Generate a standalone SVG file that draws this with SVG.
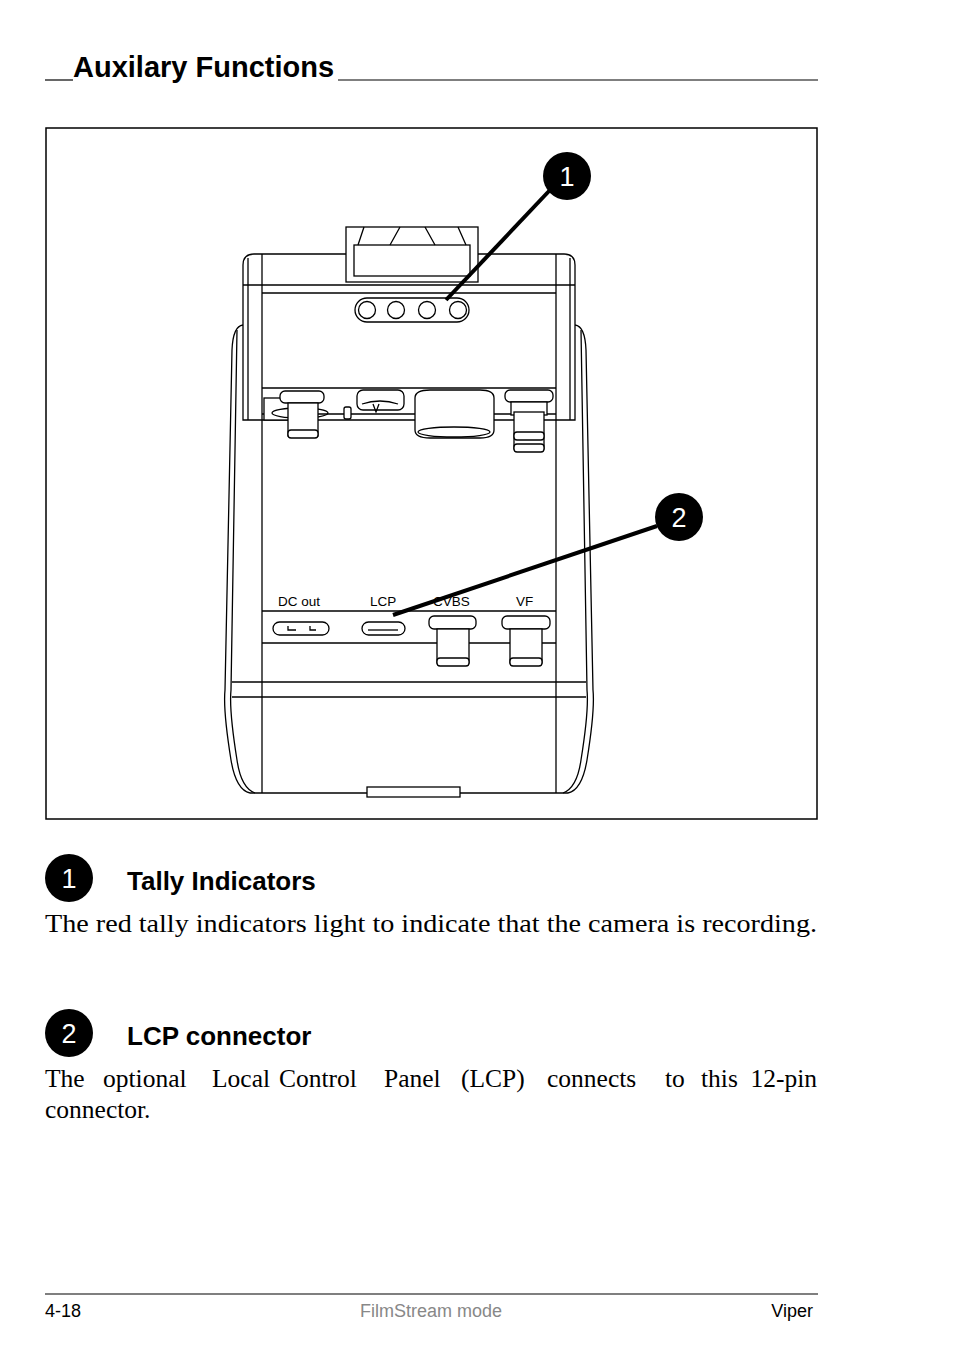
<svg xmlns="http://www.w3.org/2000/svg" width="954" height="1351" viewBox="0 0 954 1351">
<style>
.s{font-family:"Liberation Sans",Arial,sans-serif}
.b{font-family:"Liberation Sans",Arial,sans-serif;font-weight:bold}
.r{font-family:"Liberation Serif","Times New Roman",serif;font-size:25.5px}
.ln{fill:none;stroke:#000;stroke-width:1.3}
.lw{fill:#fff;stroke:#000;stroke-width:1.3}
.lead{stroke:#000;stroke-width:4;stroke-linecap:butt}
</style>
<rect width="954" height="1351" fill="#fff"/>
<text class="b" x="73" y="77" font-size="29">Auxilary Functions</text>
<line x1="45" y1="80" x2="73" y2="80" stroke="#000" stroke-width="1.2"/>
<line x1="338" y1="80" x2="818" y2="80" stroke="#000" stroke-width="1.2"/>
<rect x="46" y="128" width="771" height="691" fill="none" stroke="#000" stroke-width="1.5"/>

<g id="camera">
  <path class="ln" d="M243 325 Q233 326 232 350 L225 690 Q223 710 231 760 Q236 790 250 793"/>
  <path class="ln" d="M237 330 L231 690 Q229 710 237 760 Q241 788 255 793"/>
  <path class="ln" d="M575 325 Q585 326 586 350 L593 690 Q595 710 587 760 Q582 790 568 793"/>
  <path class="ln" d="M581 330 L587 690 Q589 710 581 760 Q577 788 563 793"/>
  <path class="lw" d="M243 420 L243 265 Q243 254 254 254 L564 254 Q575 254 575 265 L575 420 Z"/>
  <line class="ln" x1="262" y1="254" x2="262" y2="793"/>
  <line class="ln" x1="556" y1="254" x2="556" y2="793"/>
  <line class="ln" x1="250" y1="793" x2="568" y2="793"/>
  <line class="ln" x1="243" y1="285" x2="575" y2="285"/>
  <line class="ln" x1="262" y1="293" x2="556" y2="293"/>
  <line class="ln" x1="248" y1="258" x2="248" y2="420"/>
  <line class="ln" x1="570" y1="258" x2="570" y2="420"/>
  <rect class="lw" x="346" y="227" width="132" height="55"/>
  <rect class="lw" x="354" y="245" width="116" height="31"/>
  <path class="ln" d="M358 245 L364 227 M400 227 L390 245 M425 227 L435 245 M466 245 L458 227"/>
  <rect class="lw" x="355" y="298" width="114" height="24" rx="12"/>
  <circle class="lw" cx="367" cy="310" r="8.5" stroke-width="1.8"/>
  <circle class="lw" cx="396" cy="310" r="8.5" stroke-width="1.8"/>
  <circle class="lw" cx="427" cy="310" r="8.5" stroke-width="1.8"/>
  <circle class="lw" cx="458" cy="310" r="8.5" stroke-width="1.8"/>
  <line class="ln" x1="262" y1="388" x2="556" y2="388"/>
  <line class="ln" x1="262" y1="414" x2="556" y2="414"/>
  <rect class="lw" x="264" y="398" width="44" height="22" stroke-width="2"/>
  <ellipse class="ln" cx="300" cy="413" rx="28" ry="5"/>
  <rect class="lw" x="280" y="391" width="44" height="12" rx="5"/>
  <rect class="lw" x="288" y="403" width="30" height="33"/>
  <rect class="lw" x="288" y="430" width="30" height="8" rx="3"/>
  <rect class="lw" x="344" y="407" width="7" height="12" rx="2"/>
  <rect class="lw" x="357" y="390" width="47" height="20" rx="6"/>
  <path class="ln" d="M362 404 Q380 398 398 404 M373 404 L376 412 L379 404"/>
  <path class="lw" d="M415 398 Q415 390 430 390 L480 390 Q494 390 494 398 L494 430 Q494 438 480 438 L430 438 Q415 438 415 430 Z"/>
  <ellipse class="ln" cx="454" cy="432" rx="36" ry="5"/>
  <rect class="lw" x="505" y="390" width="48" height="12" rx="5"/>
  <rect class="lw" x="511" y="402" width="36" height="13"/>
  <rect class="lw" x="514" y="412" width="30" height="37"/>
  <rect class="lw" x="514" y="432" width="30" height="8" rx="3"/>
  <rect class="lw" x="514" y="444" width="30" height="8" rx="3"/>
  <text class="s" x="278" y="606" font-size="13.5">DC out</text>
  <text class="s" x="370" y="606" font-size="13.5">LCP</text>
  <text class="s" x="433" y="606" font-size="13.5">CVBS</text>
  <text class="s" x="516" y="606" font-size="13.5">VF</text>
  <line class="ln" x1="262" y1="611" x2="556" y2="611"/>
  <line class="ln" x1="262" y1="643" x2="556" y2="643"/>
  <rect class="lw" x="273" y="622" width="56" height="13" rx="6.5" stroke-width="1.8"/>
  <path class="ln" d="M288 626 L288 630 L296 630 M310 626 L310 630 L316 630"/>
  <rect class="lw" x="362" y="622" width="43" height="13" rx="6.5" stroke-width="1.8"/>
  <path class="ln" d="M368 630 L398 630"/>
  <rect class="lw" x="429" y="616" width="47" height="13" rx="5"/>
  <rect class="lw" x="437" y="629" width="32" height="34"/>
  <rect class="lw" x="437" y="658" width="32" height="8" rx="3"/>
  <rect class="lw" x="502" y="616" width="48" height="13" rx="5"/>
  <rect class="lw" x="510" y="629" width="32" height="34"/>
  <rect class="lw" x="510" y="658" width="32" height="8" rx="3"/>
  <line class="ln" x1="232" y1="682" x2="586" y2="682"/>
  <line class="ln" x1="232" y1="697" x2="586" y2="697"/>
  <rect class="lw" x="367" y="787" width="93" height="10"/>
</g>

<g id="connectors">
  <line class="lead" x1="550" y1="190" x2="446" y2="300"/>
  <line class="lead" x1="657" y1="526" x2="393" y2="615"/>
</g>

<g id="callout1">
  <circle cx="567" cy="176" r="24" fill="#000"/>
  <text class="s" x="567" y="186" font-size="27" fill="#fff" text-anchor="middle">1</text>
</g>
<g id="callout2">
  <circle cx="679" cy="517" r="24" fill="#000"/>
  <text class="s" x="679" y="527" font-size="27" fill="#fff" text-anchor="middle">2</text>
</g>

<g id="item1">
  <circle cx="69" cy="878" r="24" fill="#000"/>
  <text class="s" x="69" y="888" font-size="27" fill="#fff" text-anchor="middle">1</text>
  <text class="b" x="127" y="890" font-size="26">Tally Indicators</text>
  <text class="r" x="45" y="932" textLength="772" lengthAdjust="spacingAndGlyphs">The red tally indicators light to indicate that the camera is recording.</text>
</g>
<g id="item2">
  <circle cx="69" cy="1033" r="24" fill="#000"/>
  <text class="s" x="69" y="1043" font-size="27" fill="#fff" text-anchor="middle">2</text>
  <text class="b" x="127" y="1045" font-size="26">LCP connector</text>
  <text class="r" y="1087"><tspan x="45">The</tspan><tspan x="103">optional</tspan><tspan x="212">Local</tspan><tspan x="279">Control</tspan><tspan x="384">Panel</tspan><tspan x="461">(LCP)</tspan><tspan x="547">connects</tspan><tspan x="665">to</tspan><tspan x="701">this</tspan><tspan x="817" text-anchor="end">12-pin</tspan></text>
  <text class="r" x="45" y="1118">connector.</text>
</g>

<line x1="45" y1="1294" x2="818" y2="1294" stroke="#000" stroke-width="1.2"/>
<text class="s" x="45" y="1317" font-size="18">4-18</text>
<text class="s" x="431" y="1317" font-size="18" fill="#888" text-anchor="middle">FilmStream mode</text>
<text class="s" x="813" y="1317" font-size="18" text-anchor="end">Viper</text>
</svg>
